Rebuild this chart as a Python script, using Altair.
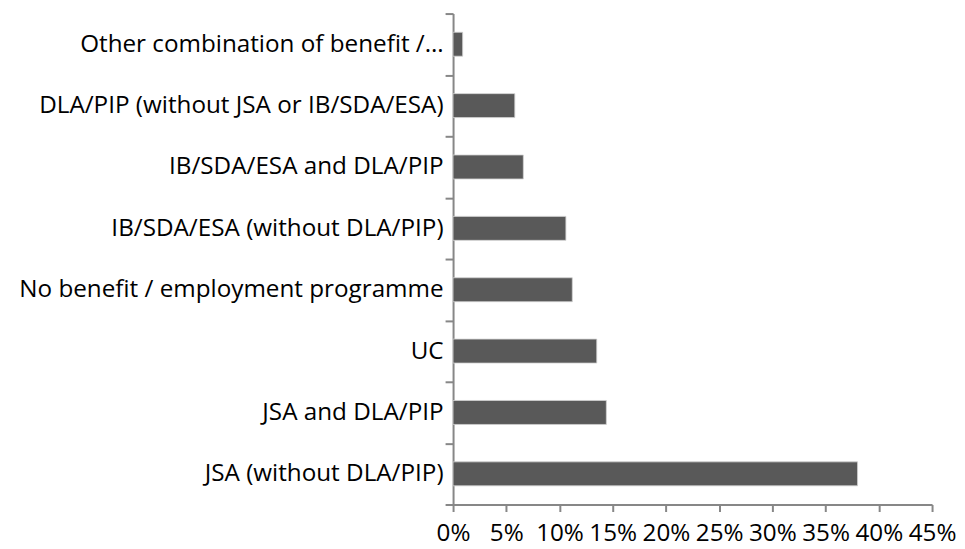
import altair as alt
import pandas as pd

categories = [
    "Other combination of benefit /…",
    "DLA/PIP (without JSA or IB/SDA/ESA)",
    "IB/SDA/ESA and DLA/PIP",
    "IB/SDA/ESA (without DLA/PIP)",
    "No benefit / employment programme",
    "UC",
    "JSA and DLA/PIP",
    "JSA (without DLA/PIP)",
]
values = [0.009, 0.058, 0.066, 0.106, 0.112, 0.135, 0.144, 0.380]
x_ticks = [0, 0.05, 0.10, 0.15, 0.20, 0.25, 0.30, 0.35, 0.40, 0.45]

df = pd.DataFrame({"category": categories, "value": values})

FONT = "Open Sans"
FSIZE = 24.3
AXIS_COLOR = "#878787"

chart = (
    alt.Chart(df)
    .mark_bar(color="#595959", size=24, stroke="#d0d0d0", strokeWidth=0.8)
    .encode(
        x=alt.X(
            "value:Q",
            scale=alt.Scale(domain=[0, 0.45], nice=False, zero=True),
            axis=alt.Axis(
                values=x_ticks,
                format=".0%",
                title=None,
                grid=False,
                domainColor=AXIS_COLOR,
                domainWidth=2,
                tickColor=AXIS_COLOR,
                tickWidth=2,
                tickSize=7,
                labelFont=FONT,
                labelFontSize=FSIZE,
                labelColor="#000000",
                labelPadding=10,
                labelFlush=False,
            ),
        ),
        y=alt.Y(
            "category:N",
            sort=categories,
            scale=alt.Scale(paddingInner=0, paddingOuter=0),
            axis=alt.Axis(
                title=None,
                tickBand="extent",
                domainColor=AXIS_COLOR,
                domainWidth=2,
                tickColor=AXIS_COLOR,
                tickWidth=2,
                tickSize=8,
                labelFont=FONT,
                labelFontSize=FSIZE,
                labelColor="#000000",
                labelPadding=2,
                labelLimit=0,
            ),
        ),
    )
    .properties(
        width=480,
        height=492,
        autosize=alt.AutoSizeParams(type="none"),
        padding={"left": 446, "top": 5, "right": 25, "bottom": 44},
    )
    .configure_view(stroke=None)
)

chart.save("out.html", embed_options={"renderer": "svg", "actions": False})
